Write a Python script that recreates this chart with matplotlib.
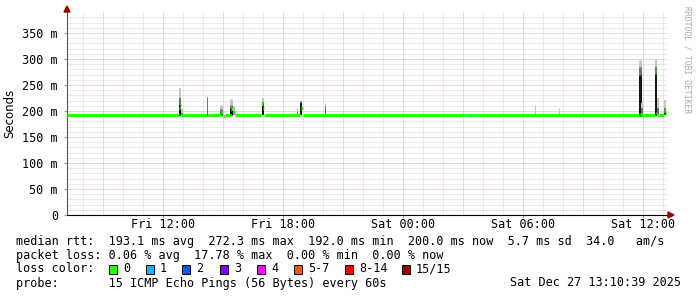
import numpy as np
import matplotlib
matplotlib.use('Agg')
import matplotlib.pyplot as plt
from matplotlib.patches import Rectangle, Polygon

# time axis: hours since Fri 07:12, 30 hour window
x_ticks = [4.8, 10.8, 16.8, 22.8, 28.8]
x_labels = ['Fri 12:00', 'Fri 18:00', 'Sat 00:00', 'Sat 06:00', 'Sat 12:00']
y_ticks = [0, 50, 100, 150, 200, 250, 300, 350]
y_labels = ['0', '50 m', '100 m', '150 m', '200 m', '250 m', '300 m', '350 m']

# median rtt (ms), each value holds from med_t[i] to med_t[i+1]
med_t = [0.0, 5.60, 5.65, 5.70, 7.00, 7.05, 7.70, 7.80, 7.90, 8.20, 8.30, 8.40,
         9.72, 9.78, 9.84, 11.65, 11.72, 11.78, 19.90, 19.95, 20.45, 20.50,
         28.62, 28.67, 28.72, 29.42, 29.47, 29.52, 29.85, 29.95]
med_v = [193, 205, 211, 193, 193, 193, 198, 190, 193, 204, 199, 193,
         213, 205, 193, 217, 205, 193, 193, 193, 193, 193,
         271, 195, 192, 273, 196, 193, 200, 196]
med_loss = [0, 0, 0, 0, 3, 0, 0, 0, 0, 0, 0, 0,
            0, 0, 0, 2, 0, 0, 1, 0, 1, 0,
            0, 0, 0, 0, 0, 0, 0, 0]
t_end = 30.0

# smoke (ms): time, width in samples, bottom, dense top, mid top, max
smoke_t = [5.65, 5.75, 7.00, 7.72, 8.22, 8.35, 9.78, 11.52, 11.70, 12.92, 23.40, 24.60,
           28.65, 28.75, 29.45, 29.55, 29.90]
smoke_w = [2, 2, 1, 3, 3, 2, 2, 1, 2, 1, 1, 1, 3, 2, 2, 2, 2]
smoke_lo = [190, 193, 193, 193, 193, 193, 193, 193, 193, 193, 193, 193, 190, 193, 190, 193, 193]
smoke_dense = [211, 193, 193, 196, 205, 193, 213, 193, 216, 193, 193, 193, 271, 193, 273, 193, 200]
smoke_mid = [225, 197, 227, 203, 212, 200, 218, 200, 217, 210, 193, 193, 285, 205, 285, 205, 205]
smoke_hi = [244, 203, 227, 211, 223, 210, 225, 205, 217, 216, 211, 205, 298, 215, 298, 225, 221]

loss_names = ['0', '1', '2', '3', '4', '5-7', '8-14', '15/15']
loss_colors = ['#26ff00', '#00b8ff', '#0059ff', '#7e00ff', '#ff00ff', '#ff5500', '#ff0000', '#a10000']

W, H = 697, 297
fig = plt.figure(figsize=(W / 100, H / 100), dpi=100)
ax = fig.add_axes([67 / W, (H - 215) / H, 600 / W, 202.8 / H])
ax.set_xlim(0, 30)
ax.set_ylim(0, 390)

# grid
dot = (0, (1, 1))
for h in np.arange(0.8, 30, 1.0):
    major = abs((h - 1.8) / 3 - round((h - 1.8) / 3)) < 1e-6
    ax.axvline(h, color='#f2a8a8' if major else '#d4d4d4', lw=0.72, ls=dot, zorder=0)
for v in range(10, 390, 10):
    major = v % 50 == 0
    ax.axhline(v, color='#f2a8a8' if major else '#d4d4d4', lw=0.72, ls=dot, zorder=0)

# smoke
for i in range(len(smoke_t)):
    lw = smoke_w[i] * 0.72
    ax.vlines(smoke_t[i], smoke_lo[i], smoke_hi[i], color='#c4c4c4', lw=lw, zorder=2)
    ax.vlines(smoke_t[i], smoke_lo[i], smoke_mid[i], color='#707070', lw=lw, zorder=2)
    ax.vlines(smoke_t[i], smoke_lo[i], smoke_dense[i], color='#151515', lw=lw, zorder=2)

# median line coloured by loss
ends = med_t[1:] + [t_end]
ax.hlines(med_v, med_t, ends, colors=[loss_colors[l] for l in med_loss], lw=2.3, zorder=3)

# axes styling
for s in ['top', 'right']:
    ax.spines[s].set_visible(False)
ax.spines['left'].set_color('#555555')
ax.spines['bottom'].set_color('black')
ax.spines['left'].set_linewidth(0.8)
ax.spines['bottom'].set_linewidth(0.8)
mono = 'DejaVu Sans Mono'
ax.set_xticks(x_ticks)
ax.set_xticklabels(x_labels, family=mono, fontsize=8.5)
ax.set_yticks(y_ticks)
ax.set_yticklabels(y_labels, family=mono, fontsize=8.5)
ax.tick_params(axis='y', length=2.5, width=0.8, color='#999999', pad=4)
ax.tick_params(axis='x', length=2, width=0.8, color='#999999', pad=0.5)
fig.text(10 / W, 1 - 113 / H, 'Seconds', rotation=90, ha='center', va='center', fontsize=8.5, family='DejaVu Sans')
fig.text(687 / W, 1 - 60 / H, 'RRDTOOL / TOBI OETIKER', rotation=270, ha='center', va='center',
         fontsize=5.8, family=mono, color='#aaaaaa')

# arrows
fig.patches.append(Polygon([[64 / W, 1 - 12 / H], [70 / W, 1 - 12 / H], [67 / W, 1 - 6 / H]],
                           closed=True, color='#a00000', transform=fig.transFigure))
fig.patches.append(Polygon([[668 / W, 1 - 212 / H], [668 / W, 1 - 218 / H], [674 / W, 1 - 215 / H]],
                           closed=True, color='#a00000', transform=fig.transFigure))

# legend text
def line(x, y, s, **kw):
    fig.text(x / W, 1 - y / H, s, family=mono, fontsize=8.45, va='center', **kw)

line(16, 241, 'median rtt:  193.1 ms avg  272.3 ms max  192.0 ms min  200.0 ms now  5.7 ms sd  34.0   am/s')
line(16, 256, 'packet loss: 0.06 % avg  17.78 % max  0.00 % min  0.00 % now')
line(16, 269, 'loss color:')
line(16, 283, 'probe:       15 ICMP Echo Pings (56 Bytes) every 60s')
line(681, 283, 'Sat Dec 27 13:10:39 2025', ha='right')

box_x = [109, 146, 182, 220, 257, 294, 345, 402]
for bx, name, c in zip(box_x, loss_names, loss_colors):
    fig.patches.append(Rectangle((bx / W, 1 - 274 / H), 8 / W, 9 / H, facecolor=c,
                                 edgecolor='black', lw=0.7, transform=fig.transFigure))
    line(bx + 14, 269, name)

fig.savefig('out.png', dpi=100, facecolor='white')
